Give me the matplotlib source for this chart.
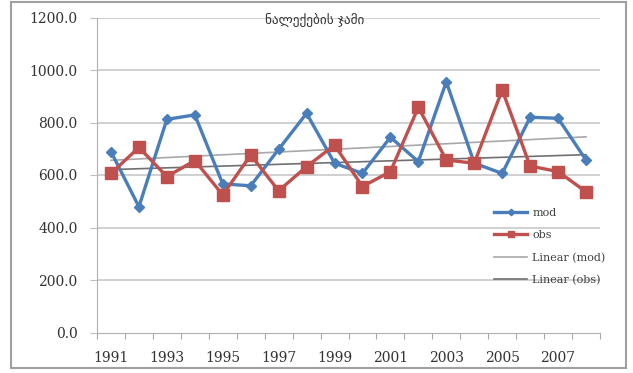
import numpy as np
import matplotlib
matplotlib.use("Agg")
import matplotlib.pyplot as plt
from matplotlib.patches import Rectangle

years = list(range(1991, 2009))
mod = [689, 479, 812, 829, 566, 559, 698, 835, 645, 606,
       744, 651, 955, 645, 606, 820, 816, 657]
obs = [606, 705, 594, 655, 524, 676, 540, 632, 714, 556,
       613, 858, 657, 645, 924, 634, 613, 536]
title = "ნალექების ჯამი"
y_ticks = [0, 200, 400, 600, 800, 1000, 1200]

W, H = 633, 373
fig = plt.figure(figsize=(W / 100, H / 100), dpi=100)
fig.patch.set_facecolor("white")

# outer chart border
fig.patches.append(Rectangle((11 / W, 5 / H), 615 / W, 366 / H, transform=fig.transFigure,
                             fill=False, edgecolor="#a0a0a0", linewidth=1.5))

ax = fig.add_axes([97 / W, 40.5 / H, 503 / W, 315 / H])
x = np.arange(len(years))

tick_font = {"family": "DejaVu Serif", "size": 10}
tick_color = "#333333"

ax.set_ylim(0, 1200)
ax.set_xlim(-0.5, len(years) - 0.5)
ax.set_yticks(y_ticks)
ax.set_yticklabels([f"{v:.1f}" for v in y_ticks], fontdict=tick_font, color=tick_color)
ax.tick_params(axis="y", length=5, color="#c0c0c0", pad=9)
for v in y_ticks[1:]:
    ax.axhline(v, color="#c8c8c8", linewidth=1.2, zorder=0)

# category boundaries as tick marks, labels every other year
ax.set_xticks(np.arange(-0.5, len(years), 1.0))
ax.set_xticklabels([])
ax.tick_params(axis="x", which="major", length=4, color="#a8a8a8", direction="out")
ax.set_xticks(x[::2], minor=True)
ax.set_xticklabels([str(y) for y in years[::2]], minor=True, fontdict=tick_font,
                   color=tick_color)
ax.tick_params(axis="x", which="minor", length=0, pad=13)

for s in ["top", "right"]:
    ax.spines[s].set_visible(False)
ax.spines["left"].set_color("#b0b0b0")
ax.spines["bottom"].set_color("#b0b0b0")

blue = "#4a7ebb"
red = "#c0504d"
ax.plot(x, mod, color=blue, linewidth=2.4, marker="D", markersize=5.5, label="mod", zorder=3)
ax.plot(x, obs, color=red, linewidth=2.4, marker="s", markersize=8, label="obs", zorder=3)

# linear trends
pm = np.polyfit(x, mod, 1)
po = np.polyfit(x, obs, 1)
ax.plot(x, np.polyval(pm, x), color="#a8a8a8", linewidth=1.2, label="Linear (mod)", zorder=2)
ax.plot(x, np.polyval(po, x), color="#707070", linewidth=1.2, label="Linear (obs)", zorder=2)

fig.text(315 / W, 1 - 20 / H, title, ha="center", va="center", fontsize=9.5,
         family=["DejaVu Sans"], color="#333333")

leg = ax.legend(loc="upper left", bbox_to_anchor=(484 / W, 1 - 198 / H),
                bbox_transform=fig.transFigure, frameon=False,
                handlelength=3.0, labelspacing=1.1, handletextpad=0.45,
                markerscale=0.6, prop={"family": "DejaVu Serif", "size": 8})
for t in leg.get_texts():
    t.set_color("#404040")

fig.savefig("out.png", dpi=100)
